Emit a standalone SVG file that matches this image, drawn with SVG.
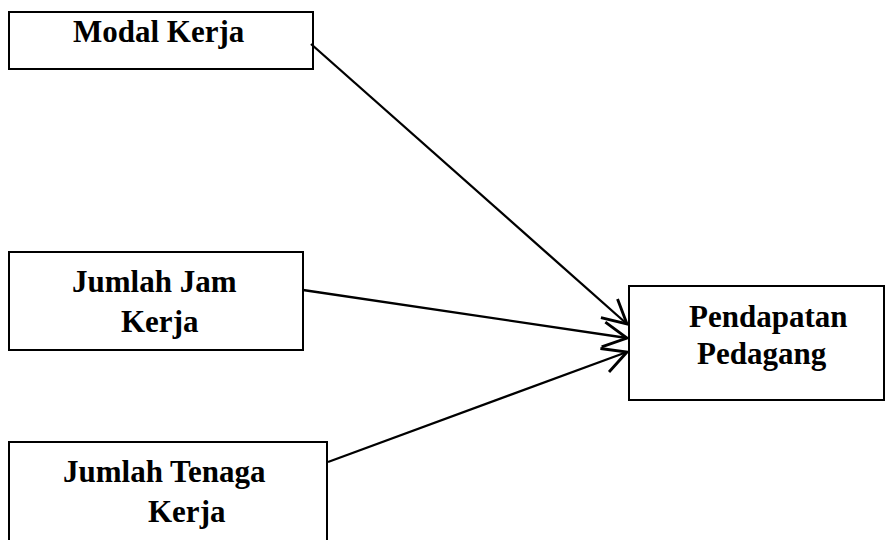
<svg xmlns="http://www.w3.org/2000/svg" width="886" height="540" viewBox="0 0 886 540">
<style>
.box{fill:#fff;stroke:#000;stroke-width:2}
.t{font-family:"Liberation Serif","Times New Roman",serif;font-weight:bold;font-size:31px;fill:#000}
.c{stroke:#000;stroke-width:2.3;fill:none}
</style>
<defs>
<marker id="arr" markerUnits="userSpaceOnUse" markerWidth="30" markerHeight="30" refX="0" refY="0" viewBox="-22 -12 24 24" orient="auto" overflow="visible">
<path d="M-19,-10 L0,0 L-19,10" fill="none" stroke="#000" stroke-width="2.3"/>
</marker>
</defs>
<rect width="886" height="540" fill="#fff"/>
<g id="modal">
<rect class="box" x="9" y="12" width="304" height="57"/>
<text class="t" x="73" y="42">Modal Kerja</text>
</g>
<g id="jam">
<rect class="box" x="9" y="252" width="294" height="98"/>
<text class="t" x="72" y="292">Jumlah Jam</text>
<text class="t" x="121" y="332">Kerja</text>
</g>
<g id="tenaga">
<rect class="box" x="9" y="442" width="318" height="105"/>
<text class="t" x="63" y="482">Jumlah Tenaga</text>
<text class="t" x="148" y="522">Kerja</text>
</g>
<g id="pendapatan">
<rect class="box" x="629" y="286" width="255" height="114"/>
<text class="t" x="689" y="327">Pendapatan</text>
<text class="t" x="697" y="364">Pedagang</text>
</g>
<g id="connectors">
<line class="c" x1="311" y1="44" x2="627" y2="324" marker-end="url(#arr)"/>
<line class="c" x1="303" y1="290" x2="627" y2="338" marker-end="url(#arr)"/>
<line class="c" x1="328" y1="462" x2="627" y2="352" marker-end="url(#arr)"/>
</g>
</svg>
